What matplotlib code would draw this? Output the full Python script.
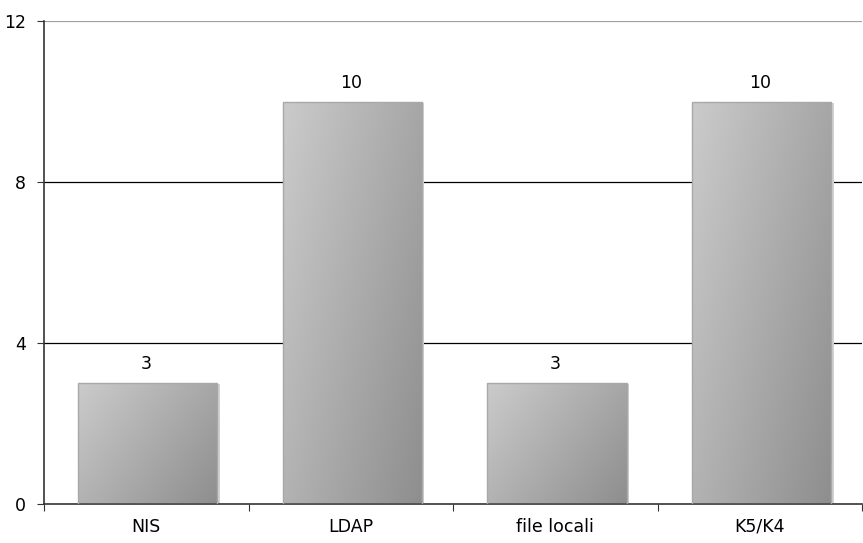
import numpy as np
import matplotlib
matplotlib.use("Agg")
import matplotlib.pyplot as plt
from matplotlib.patches import Rectangle
from matplotlib.colors import LinearSegmentedColormap

# dati
categorie = ["NIS", "LDAP", "file locali", "K5/K4"]
valori = [3, 10, 3, 10]
tick_y = [0, 4, 8, 12]

plt.rcParams['font.family'] = ['DejaVu Sans']
fs = 12.5

fig = plt.figure(figsize=(8.63, 5.43), dpi=100)
ax = fig.add_axes([0.051, 0.072, 0.948, 0.889])

n = len(categorie)
ax.set_xlim(0, n)
ax.set_ylim(0, 12)

# griglia orizzontale
for y in tick_y[1:]:
    ax.axhline(y, color="#000000" if y < 12 else "#a0a0a0", lw=0.9, zorder=0)

# sfumatura diagonale per le barre
grad = LinearSegmentedColormap.from_list("grigi", ["#cbcbcb", "#8e8e8e"])
gx, gy = np.meshgrid(np.linspace(0, 1, 200), np.linspace(0, 1, 200))
sfumatura = (gx * 0.6 + (1 - gy) * 0.4)

larghezza = 0.68
for i, (cat, v) in enumerate(zip(categorie, valori)):
    x0 = i + 0.5 - larghezza / 2 + 0.008
    # ombra a destra
    ax.add_patch(Rectangle((x0 + 0.012, 0), larghezza, v - 0.03,
                           facecolor="#d2d2d2", edgecolor="none", zorder=1))
    bar = Rectangle((x0, 0), larghezza, v, facecolor="none",
                    edgecolor="#a8a8a8", lw=1.0, zorder=3)
    ax.add_patch(bar)
    im = ax.imshow(sfumatura, cmap=grad, extent=(x0, x0 + larghezza, 0, v),
                   origin="lower", aspect="auto", zorder=2, interpolation="bilinear")
    im.set_clip_path(bar)
    ax.text(i + 0.5, v + 0.25, str(v), ha="center", va="bottom", fontsize=fs)

ax.set_xlim(0, n)
ax.set_ylim(0, 12)
ax.set_yticks(tick_y)
ax.set_yticklabels([str(t) for t in tick_y], fontsize=fs)
ax.set_xticks(np.arange(n + 1))
ax.set_xticklabels([])
ax.set_xticks(np.arange(n) + 0.5, minor=True)
ax.set_xticklabels(categorie, minor=True, fontsize=fs)
ax.tick_params(axis="x", which="minor", length=0, pad=10)
ax.tick_params(axis="x", which="major", length=5, color="#333333")
ax.tick_params(axis="y", length=5, color="#333333", pad=8)

for s in ["top", "right"]:
    ax.spines[s].set_visible(False)
ax.spines["left"].set_color("#333333")
ax.spines["bottom"].set_color("#333333")
ax.spines["left"].set_linewidth(1.2)
ax.spines["bottom"].set_linewidth(1.2)

fig.savefig("out.png", dpi=100)
